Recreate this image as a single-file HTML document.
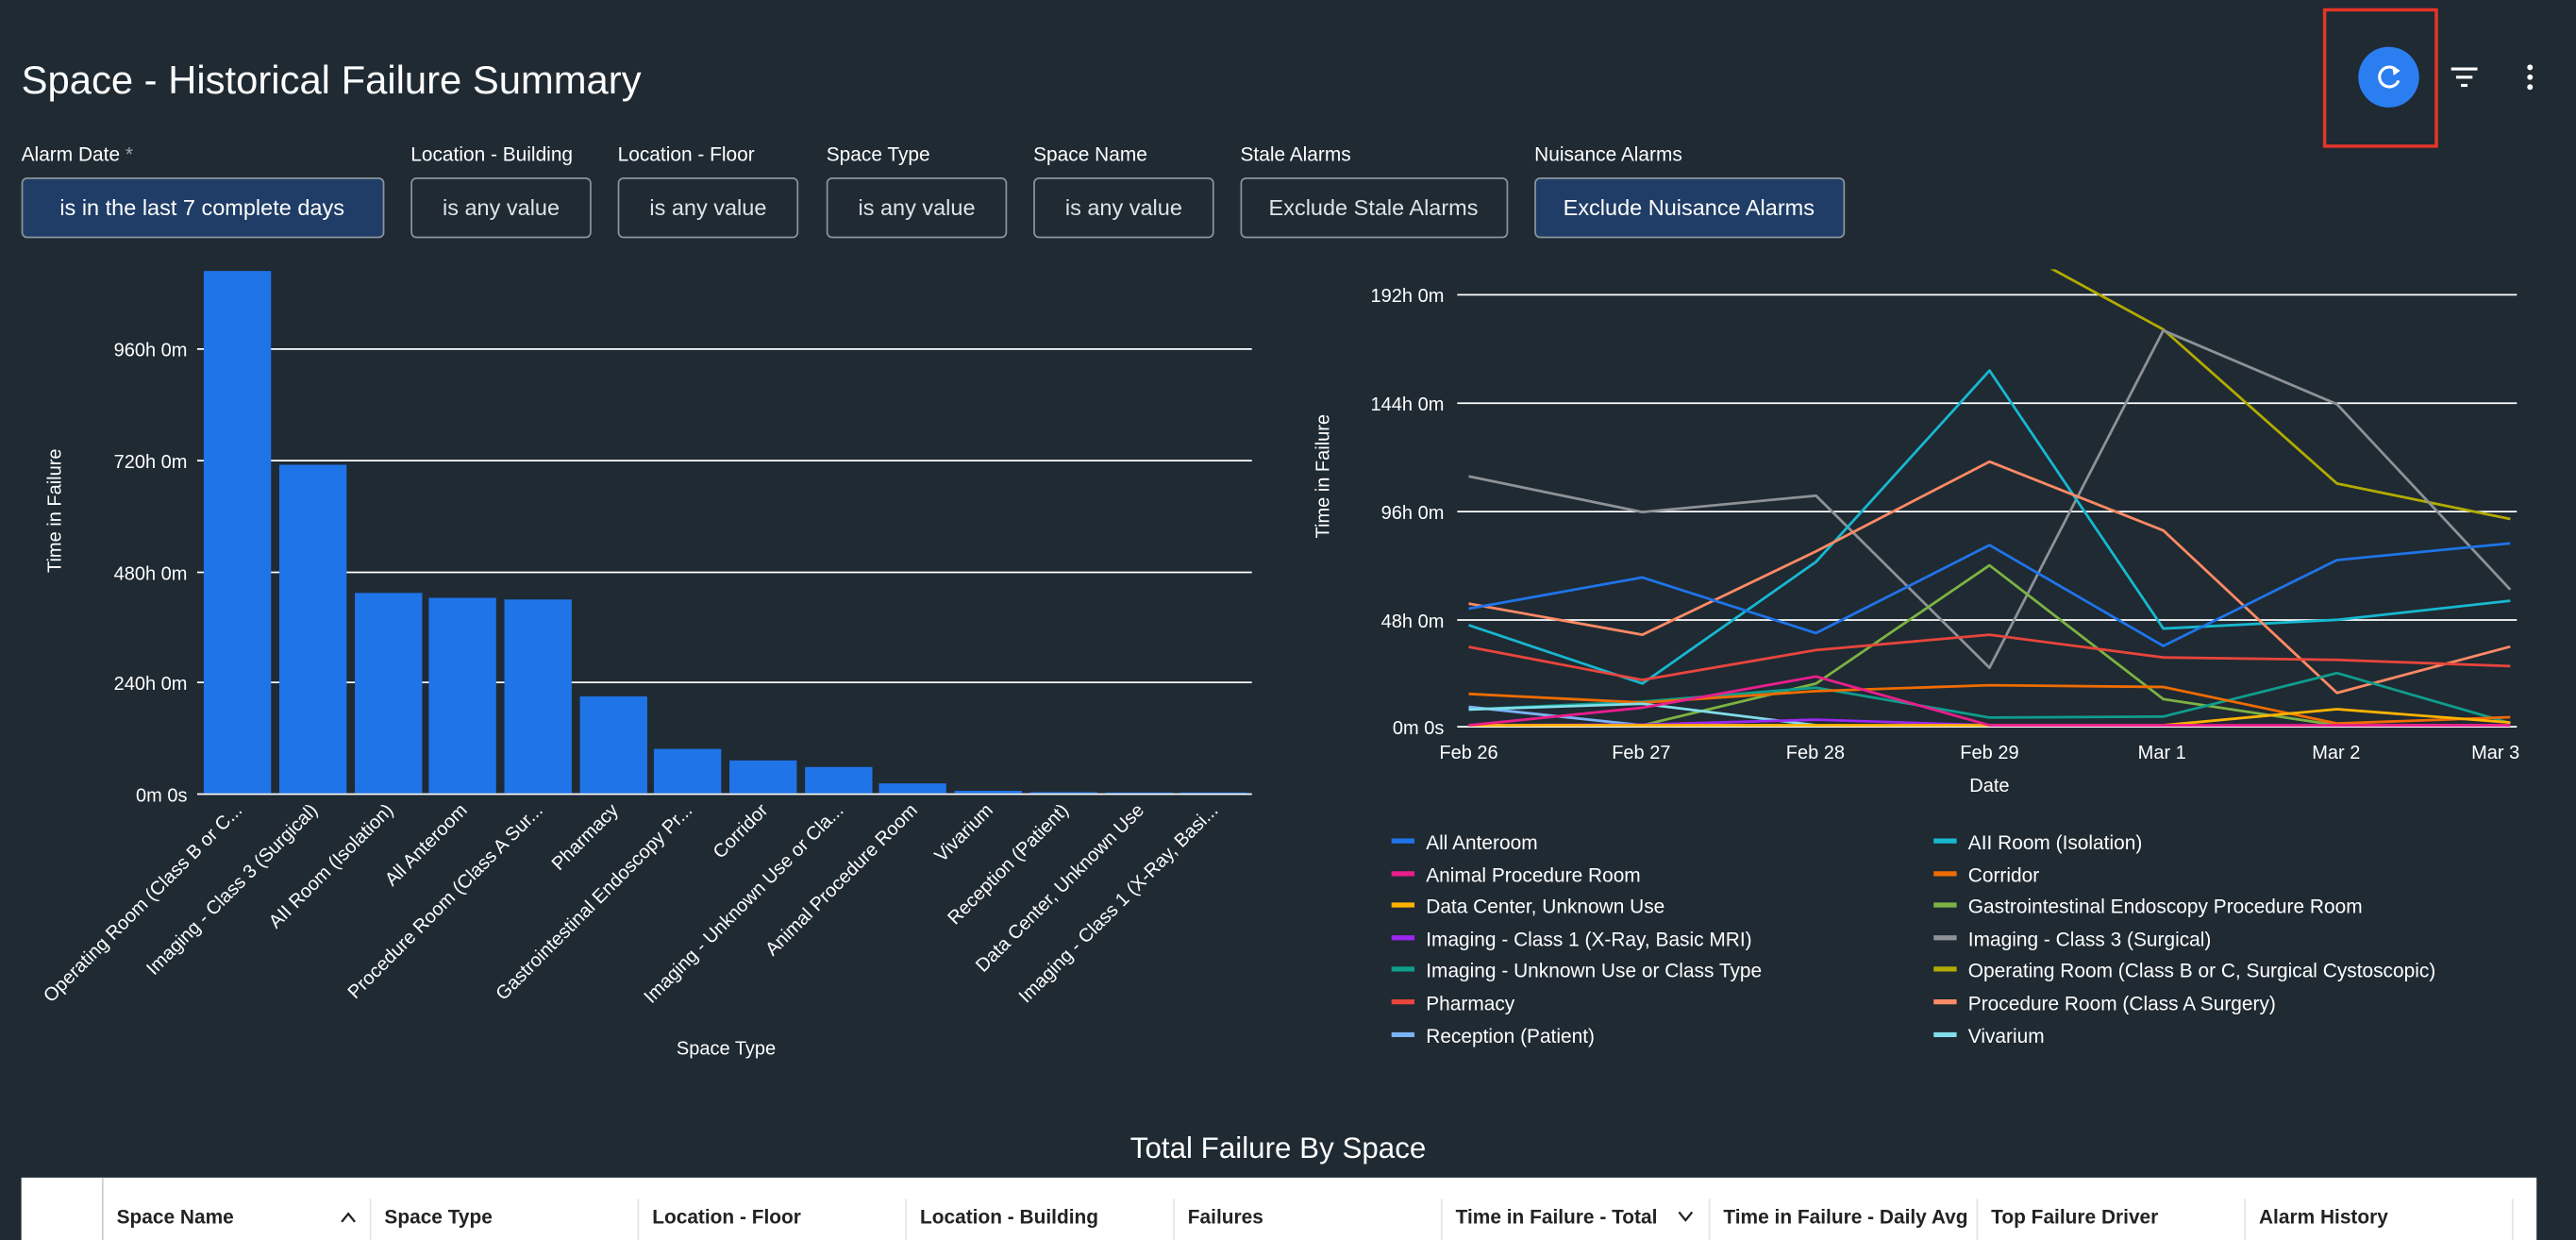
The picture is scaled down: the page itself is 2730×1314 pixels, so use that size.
<!DOCTYPE html>
<html><head><meta charset="utf-8"><style>
html,body{margin:0;padding:0;background:#1f2a33;overflow:hidden}
svg{display:block}
text{font-family:"Liberation Sans",sans-serif}
</style></head><body>
<svg width="2730" height="1314" viewBox="0 0 1568 755" preserveAspectRatio="none" xmlns="http://www.w3.org/2000/svg">
<rect width="1568" height="755" fill="#1f2a33"/>
<text x="13" y="57" font-size="24" fill="#fff">Space - Historical Failure Summary</text>
<rect x="1415" y="6" width="68" height="83" fill="none" stroke="#e53528" stroke-width="2"/>
<circle cx="1454" cy="47" r="18.5" fill="#2b7ef0"/>
<path d="M1459 43 A6 6 0 1 0 1460 49" fill="none" stroke="#fff" stroke-width="1.8"/>
<path d="M1456 40 L1461 43 L1457 46Z" fill="#fff"/>
<g stroke="#fff" stroke-width="1.8"><line x1="1492" y1="42" x2="1508" y2="42"/><line x1="1495" y1="47" x2="1505" y2="47"/><line x1="1498" y1="52" x2="1502" y2="52"/></g>
<g fill="#fff"><circle cx="1540" cy="41" r="1.7"/><circle cx="1540" cy="47" r="1.7"/><circle cx="1540" cy="53" r="1.7"/></g>
<g font-size="12" fill="#fff">
<text x="13" y="98">Alarm Date <tspan fill="#9aa3ab">*</tspan></text>
<text x="250" y="98">Location - Building</text><text x="376" y="98">Location - Floor</text>
<text x="503" y="98">Space Type</text><text x="629" y="98">Space Name</text>
<text x="755" y="98">Stale Alarms</text><text x="934" y="98">Nuisance Alarms</text>
</g>
<g stroke="#8c949b" stroke-width="1">
<rect x="13.5" y="108.5" width="220" height="36" rx="3" fill="#1f3d66"/>
<rect x="250.5" y="108.5" width="109" height="36" rx="3" fill="none"/>
<rect x="376.5" y="108.5" width="109" height="36" rx="3" fill="none"/>
<rect x="503.5" y="108.5" width="109" height="36" rx="3" fill="none"/>
<rect x="629.5" y="108.5" width="109" height="36" rx="3" fill="none"/>
<rect x="755.5" y="108.5" width="162" height="36" rx="3" fill="none"/>
<rect x="934.5" y="108.5" width="188" height="36" rx="3" fill="#1f3d66"/>
</g>
<g font-size="13.5" text-anchor="middle" fill="#dfe3e6">
<text x="123" y="131" fill="#fff">is in the last 7 complete days</text>
<text x="305" y="131">is any value</text><text x="431" y="131">is any value</text>
<text x="558" y="131">is any value</text><text x="684" y="131">is any value</text>
<text x="836" y="131">Exclude Stale Alarms</text><text x="1028" y="131" fill="#fff">Exclude Nuisance Alarms</text>
</g>
<!-- bar chart -->
<g stroke="#fff" stroke-width="1"><line x1="120" y1="212.5" x2="762" y2="212.5"/><line x1="120" y1="280.5" x2="762" y2="280.5"/><line x1="120" y1="348.5" x2="762" y2="348.5"/><line x1="120" y1="415.5" x2="762" y2="415.5"/><line x1="120" y1="483.5" x2="762" y2="483.5"/></g>
<g font-size="11.5" fill="#fff" text-anchor="end"><text x="114" y="217">960h 0m</text><text x="114" y="285">720h 0m</text><text x="114" y="353">480h 0m</text><text x="114" y="420">240h 0m</text><text x="114" y="488">0m 0s</text></g>
<text transform="translate(37,311) rotate(-90)" font-size="11.5" fill="#fff" text-anchor="middle">Time in Failure</text>
<g fill="#1f74e8">
<rect x="124" y="165" width="41" height="318"/><rect x="170" y="283" width="41" height="200"/><rect x="216" y="361" width="41" height="122"/><rect x="261" y="364" width="41" height="119"/><rect x="307" y="365" width="41" height="118"/><rect x="353" y="424" width="41" height="59"/><rect x="398" y="456" width="41" height="27"/><rect x="444" y="463" width="41" height="20"/><rect x="490" y="467" width="41" height="16"/><rect x="535" y="477" width="41" height="6"/><rect x="581" y="481.5" width="41" height="1.5"/><rect x="627" y="482.3" width="41" height="0.7"/><rect x="673" y="482.5" width="41" height="0.5"/><rect x="718" y="482.5" width="41" height="0.5"/>
</g>
<g font-size="11.5" fill="#fff" text-anchor="end">
<text transform="translate(148,494) rotate(-45)">Operating Room (Class B or C...</text>
<text transform="translate(194,494) rotate(-45)">Imaging - Class 3 (Surgical)</text>
<text transform="translate(240,494) rotate(-45)">AII Room (Isolation)</text>
<text transform="translate(285,494) rotate(-45)">All Anteroom</text>
<text transform="translate(331,494) rotate(-45)">Procedure Room (Class A Sur...</text>
<text transform="translate(377,494) rotate(-45)">Pharmacy</text>
<text transform="translate(422,494) rotate(-45)">Gastrointestinal Endoscopy Pr...</text>
<text transform="translate(468,494) rotate(-45)">Corridor</text>
<text transform="translate(514,494) rotate(-45)">Imaging - Unknown Use or Cla...</text>
<text transform="translate(559,494) rotate(-45)">Animal Procedure Room</text>
<text transform="translate(605,494) rotate(-45)">Vivarium</text>
<text transform="translate(651,494) rotate(-45)">Reception (Patient)</text>
<text transform="translate(697,494) rotate(-45)">Data Center, Unknown Use</text>
<text transform="translate(742,494) rotate(-45)">Imaging - Class 1 (X-Ray, Basi...</text>
</g>
<text x="442" y="642" font-size="11.5" fill="#fff" text-anchor="middle">Space Type</text>
<!-- line chart -->
<g stroke="#fff" stroke-width="1"><line x1="887" y1="179.5" x2="1532" y2="179.5"/><line x1="887" y1="245.5" x2="1532" y2="245.5"/><line x1="887" y1="311.5" x2="1532" y2="311.5"/><line x1="887" y1="377.5" x2="1532" y2="377.5"/><line x1="887" y1="442.5" x2="1532" y2="442.5"/></g>
<g font-size="11.5" fill="#fff" text-anchor="end"><text x="879" y="184">192h 0m</text><text x="879" y="250">144h 0m</text><text x="879" y="316">96h 0m</text><text x="879" y="382">48h 0m</text><text x="879" y="447">0m 0s</text></g>
<text transform="translate(809,290) rotate(-90)" font-size="11.5" fill="#fff" text-anchor="middle">Time in Failure</text>
<g font-size="11.5" fill="#fff" text-anchor="middle"><text x="894" y="462">Feb 26</text><text x="999" y="462">Feb 27</text><text x="1105" y="462">Feb 28</text><text x="1211" y="462">Feb 29</text><text x="1316" y="462">Mar 1</text><text x="1422" y="462">Mar 2</text><text x="1519" y="462">Mar 3</text><text x="1211" y="482">Date</text></g>
<clipPath id="c"><rect x="880" y="164" width="660" height="285"/></clipPath>
<g clip-path="url(#c)" fill="none" stroke-width="1.6" stroke-linejoin="round">
<polyline stroke="#b2ab00" points="894,-100 999.7,-20 1105.4,86 1211,143 1316.8,200.6 1422.5,294.4 1528,316"/>
<polyline stroke="#8e9296" points="894,290 999.7,311.8 1105.4,301.8 1211,406.6 1316.8,201.2 1422.5,246.1 1528,359"/>
<polyline stroke="#17b8d0" points="894,380.6 999.7,416.2 1105.4,342.1 1211,225.6 1316.8,382.7 1422.5,377.4 1528,365.8"/>
<polyline stroke="#ff8a65" points="894,367.5 999.7,386.5 1105.4,335.7 1211,281.1 1316.8,323 1422.5,421.9 1528,393.7"/>
<polyline stroke="#1f74e8" points="894,370.6 999.7,351.6 1105.4,385.5 1211,331.9 1316.8,393.3 1422.5,341 1528,330.8"/>
<polyline stroke="#7cb342" points="894,441.6 999.7,441.6 1105.4,416.2 1211,344.2 1316.8,425.7 1422.5,441.6 1528,441.6"/>
<polyline stroke="#e8453c" points="894,393.9 999.7,414 1105.4,395.8 1211,386.5 1316.8,400.3 1422.5,401.8 1528,405.6"/>
<polyline stroke="#0f9d8c" points="894,432 999.7,427.2 1105.4,418.7 1211,436.9 1316.8,436.3 1422.5,409.8 1528,440.3"/>
<polyline stroke="#ef6c00" points="894,422.5 999.7,427.8 1105.4,420.8 1211,417.2 1316.8,418.3 1422.5,440.5 1528,436.7"/>
<polyline stroke="#7ab3f5" points="894,430.4 999.7,441.6 1105.4,441.6"/>
<polyline stroke="#80deea" points="894,432 999.7,428.5 1105.4,441.6"/>
<polyline stroke="#9c27f0" points="894,441.6 999.7,441.2 1105.4,438.2 1211,441.6"/>
<polyline stroke="#ffb300" points="894,441.6 999.7,441.6 1105.4,441.6 1211,441.6 1316.8,441.6 1422.5,431.8 1528,439.9"/>
<polyline stroke="#e91e8c" points="894,441.6 999.7,430.9 1105.4,411.9 1211,441.6 1316.8,441.6 1422.5,441.6 1528,441.6"/>
</g>
<g stroke-width="3">
<line x1="847" y1="512" x2="861" y2="512" stroke="#1f74e8"/><line x1="847" y1="532" x2="861" y2="532" stroke="#e91e8c"/><line x1="847" y1="551" x2="861" y2="551" stroke="#ffb300"/><line x1="847" y1="571" x2="861" y2="571" stroke="#9c27f0"/><line x1="847" y1="590" x2="861" y2="590" stroke="#0f9d8c"/><line x1="847" y1="610" x2="861" y2="610" stroke="#e8453c"/><line x1="847" y1="630" x2="861" y2="630" stroke="#7ab3f5"/>
<line x1="1177" y1="512" x2="1191" y2="512" stroke="#17b8d0"/><line x1="1177" y1="532" x2="1191" y2="532" stroke="#ef6c00"/><line x1="1177" y1="551" x2="1191" y2="551" stroke="#7cb342"/><line x1="1177" y1="571" x2="1191" y2="571" stroke="#8e9296"/><line x1="1177" y1="590" x2="1191" y2="590" stroke="#b2ab00"/><line x1="1177" y1="610" x2="1191" y2="610" stroke="#ff8a65"/><line x1="1177" y1="630" x2="1191" y2="630" stroke="#80deea"/>
</g>
<g font-size="12" fill="#fff">
<text x="868" y="517">All Anteroom</text><text x="868" y="537">Animal Procedure Room</text><text x="868" y="556">Data Center, Unknown Use</text><text x="868" y="576">Imaging - Class 1 (X-Ray, Basic MRI)</text><text x="868" y="595">Imaging - Unknown Use or Class Type</text><text x="868" y="615">Pharmacy</text><text x="868" y="635">Reception (Patient)</text>
<text x="1198" y="517">AII Room (Isolation)</text><text x="1198" y="537">Corridor</text><text x="1198" y="556">Gastrointestinal Endoscopy Procedure Room</text><text x="1198" y="576">Imaging - Class 3 (Surgical)</text><text x="1198" y="595">Operating Room (Class B or C, Surgical Cystoscopic)</text><text x="1198" y="615">Procedure Room (Class A Surgery)</text><text x="1198" y="635">Vivarium</text>
</g>
<!-- table -->
<text x="778" y="705" font-size="18" fill="#fff" text-anchor="middle">Total Failure By Space</text>
<rect x="13" y="717" width="1531" height="40" fill="#fff"/>
<line x1="62.5" y1="717" x2="62.5" y2="755" stroke="#ccc"/>
<g stroke="#e4e4e4"><line x1="225.5" y1="730" x2="225.5" y2="755"/><line x1="388.5" y1="730" x2="388.5" y2="755"/><line x1="551.5" y1="730" x2="551.5" y2="755"/><line x1="714.5" y1="730" x2="714.5" y2="755"/><line x1="877.5" y1="730" x2="877.5" y2="755"/><line x1="1040.5" y1="730" x2="1040.5" y2="755"/><line x1="1203.5" y1="730" x2="1203.5" y2="755"/><line x1="1366.5" y1="730" x2="1366.5" y2="755"/><line x1="1529.5" y1="730" x2="1529.5" y2="755"/></g>
<g font-size="12" font-weight="bold" fill="#222">
<text x="71" y="745">Space Name</text><text x="234" y="745">Space Type</text><text x="397" y="745">Location - Floor</text><text x="560" y="745">Location - Building</text><text x="723" y="745">Failures</text><text x="886" y="745">Time in Failure - Total</text><text x="1049" y="745">Time in Failure - Daily Avg</text><text x="1212" y="745">Top Failure Driver</text><text x="1375" y="745">Alarm History</text>
</g>
<path d="M208 744 L212 739 L216 744" fill="none" stroke="#222" stroke-width="1.3"/>
<path d="M1022 738 L1026 743 L1030 738" fill="none" stroke="#222" stroke-width="1.3"/>
</svg>
</body></html>
